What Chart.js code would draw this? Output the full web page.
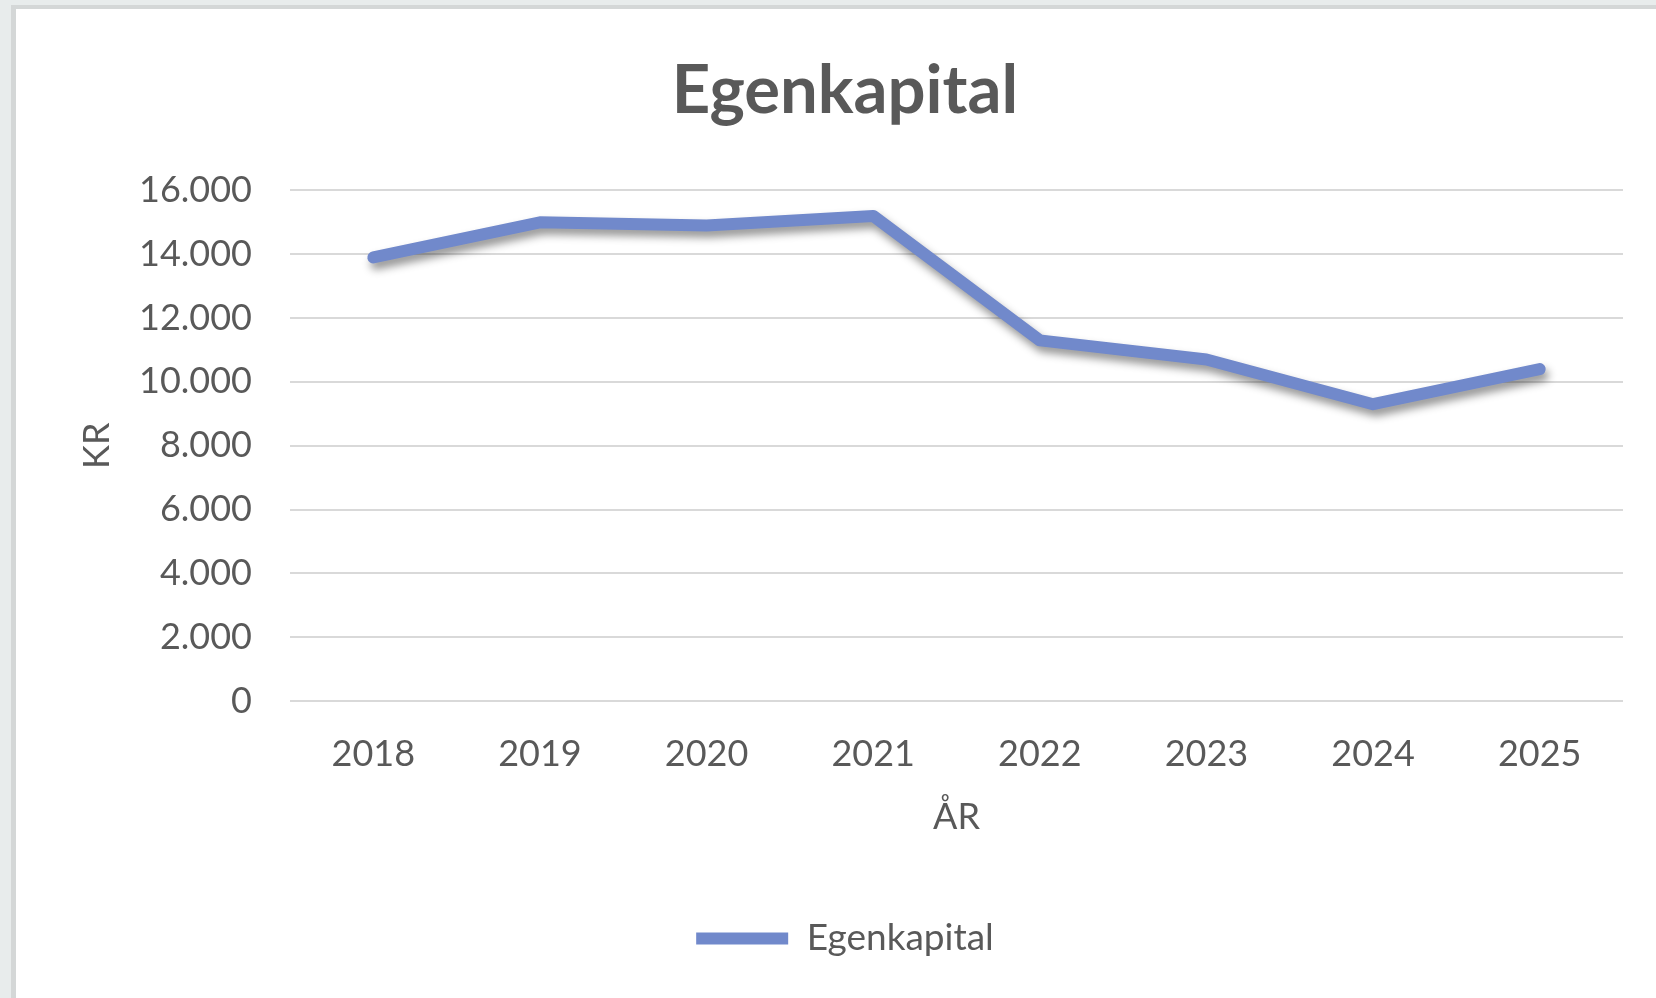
<!DOCTYPE html>
<html>
<head>
<meta charset="utf-8">
<script src="https://cdn.jsdelivr.net/npm/chart.js@4/dist/chart.umd.min.js"></script>
<style>
  html, body { margin: 0; padding: 0; width: 1656px; height: 998px; overflow: hidden; background: #e8ecec; }
  #panel { position: absolute; left: 11px; top: 5px; width: 1700px; height: 1100px; background: #ffffff; border-left: 5px solid #d4d7d7; border-top: 4px solid #d4d7d7; box-sizing: border-box; }
  #wrap { position: absolute; left: 0; top: 0; width: 1656px; height: 998px; }
</style>
</head>
<body>
<div id="panel"></div>
<div id="wrap"><canvas id="c" width="1656" height="998"></canvas></div>
<script>
const chartTitle = 'Egenkapital';
const categories = ['2018', '2019', '2020', '2021', '2022', '2023', '2024', '2025'];
const seriesName = 'Egenkapital';
const seriesValues = [13900, 15000, 14900, 15200, 11300, 10700, 9300, 10400];
const yTickValues = [0, 2000, 4000, 6000, 8000, 10000, 12000, 14000, 16000];
const yTickLabels = ['0', '2.000', '4.000', '6.000', '8.000', '10.000', '12.000', '14.000', '16.000'];
const xAxisTitle = 'ÅR';
const yAxisTitle = 'KR';

const textColor = '#595959';
const lineColor = '#7189cb';

const shadowPlugin = {
  id: 'lineShadow',
  beforeDatasetsDraw(chart) {
    const ctx = chart.ctx;
    ctx.save();
    ctx.shadowColor = 'rgba(0,0,0,0.42)';
    ctx.shadowBlur = 8;
    ctx.shadowOffsetX = 3;
    ctx.shadowOffsetY = 6;
  },
  afterDatasetsDraw(chart) {
    chart.ctx.restore();
  }
};

new Chart(document.getElementById('c'), {
  type: 'line',
  data: {
    labels: categories,
    datasets: [{
      label: seriesName,
      data: seriesValues,
      borderColor: lineColor,
      backgroundColor: lineColor,
      borderWidth: 12,
      borderCapStyle: 'round',
      borderJoinStyle: 'round',
      pointRadius: 0,
      pointHoverRadius: 0,
      tension: 0,
      fill: false
    }]
  },
  options: {
    responsive: false,
    animation: false,
    devicePixelRatio: 1,
    layout: { padding: { left: 67, right: 33, top: 0, bottom: 31 } },
    plugins: {
      title: {
        display: true,
        text: chartTitle,
        color: textColor,
        font: { family: 'Lato', size: 67, weight: 'bold', lineHeight: 1.2 },
        padding: { top: 51, bottom: 59 }
      },
      legend: {
        display: true,
        position: 'bottom',
        labels: {
          color: textColor,
          font: { family: 'Lato', size: 37 },
          usePointStyle: true,
          pointStyle: 'line',
          pointStyleWidth: 92,
          padding: 10
        }
      },
      tooltip: { enabled: false }
    },
    scales: {
      x: {
        offset: true,
        grid: { display: false, drawTicks: false },
        border: { display: false },
        ticks: {
          color: textColor,
          font: { family: 'Lato', size: 36, lineHeight: 1.2 },
          padding: 32,
          maxRotation: 0
        },
        title: {
          display: true,
          text: xAxisTitle,
          color: textColor,
          font: { family: 'Lato', size: 36, lineHeight: 1.2 },
          padding: { top: 0, bottom: 71 }
        },
        afterFit(scale) { scale.height = 209; }
      },
      y: {
        min: 0,
        max: 16000,
        afterBuildTicks(scale) { scale.ticks = yTickValues.map(v => ({ value: v })); },
        grid: { color: '#d9d9d9', lineWidth: 2, drawTicks: false },
        border: { display: false },
        ticks: {
          color: textColor,
          font: { family: 'Lato', size: 36, lineHeight: 1.2 },
          padding: 38,
          callback(value) { const i = yTickValues.indexOf(value); return i >= 0 ? yTickLabels[i] : ''; }
        },
        title: {
          display: true,
          text: yAxisTitle,
          color: textColor,
          font: { family: 'Lato', size: 36, lineHeight: 1.2 },
          padding: { top: 9, bottom: 0 }
        },
        afterFit(scale) { scale.width = 223; }
      }
    }
  },
  plugins: [shadowPlugin]
});
</script>
</body>
</html>
